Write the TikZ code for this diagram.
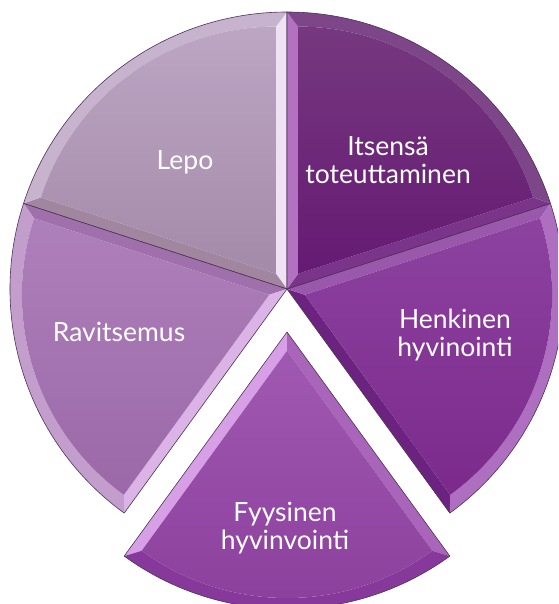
\documentclass[tikz,border=0pt]{standalone}
\usepackage{fontspec}
\setmainfont{Lato}
\usetikzlibrary{calc}
\definecolor{lepoTop}{HTML}{BCA6C4}
\definecolor{lepoBot}{HTML}{A48AA9}
\definecolor{lepoBa}{HTML}{EFE2F3}
\definecolor{lepoBb}{HTML}{A0879F}
\definecolor{lepoArc}{HTML}{C8B3CE}
\definecolor{ravTop}{HTML}{AE80BB}
\definecolor{ravBot}{HTML}{9B68A8}
\definecolor{ravBa}{HTML}{A070AD}
\definecolor{ravBb}{HTML}{DCB3E6}
\definecolor{ravArc}{HTML}{C39ECD}
\definecolor{fyyTop}{HTML}{A059B2}
\definecolor{fyyBot}{HTML}{8B3F9C}
\definecolor{fyyBa}{HTML}{D7A0E6}
\definecolor{fyyBb}{HTML}{A865B9}
\definecolor{fyyArc}{HTML}{86399A}
\definecolor{henTop}{HTML}{8D42A0}
\definecolor{henBot}{HTML}{7B2A8B}
\definecolor{henBa}{HTML}{6C2380}
\definecolor{henBb}{HTML}{9A58AD}
\definecolor{henArc}{HTML}{AE6FC0}
\definecolor{itsTop}{HTML}{76387F}
\definecolor{itsBot}{HTML}{651A73}
\definecolor{itsBa}{HTML}{7A348A}
\definecolor{itsBb}{HTML}{B471C2}
\definecolor{itsArc}{HTML}{7D4688}
\definecolor{rimline}{HTML}{4E3355}
\newcommand\pieslice[8]{%
  % #1 apex, #2 bisector angle, #3 face top, #4 face bottom,
  % #5 band at angle-36, #6 band at angle+36, #7 arc band, #8 prefix
  \pgfmathsetmacro\angLo{#2-36}%
  \pgfmathsetmacro\angHi{#2+36}%
  \coordinate (#8A) at #1;
  \coordinate (#8B) at ($(#8A)+(#2:18.72)$);
  \coordinate (#8P) at ($(#8A)+(\angLo:277)$);
  \coordinate (#8Q) at ($(#8A)+(\angHi:277)$);
  \coordinate (#8p) at ($(#8B)+(\angLo:247.3)$);
  \coordinate (#8q) at ($(#8B)+(\angHi:247.3)$);
  \fill[#5] (#8A) -- (#8P) -- (#8p) -- (#8B) -- cycle;
  \fill[#6] (#8A) -- (#8Q) -- (#8q) -- (#8B) -- cycle;
  \fill[#7] (#8P) arc[start angle=\angLo, end angle=\angHi, radius=277]
     -- (#8q) arc[start angle=\angHi, end angle=\angLo, radius=247.3] -- cycle;
  \shade[top color=#3, bottom color=#4] (#8B) -- (#8p)
     arc[start angle=\angLo, end angle=\angHi, radius=247.3] -- cycle;
  \draw[rimline, line width=0.6pt, line join=round] (#8A) -- (#8P)
     arc[start angle=\angLo, end angle=\angHi, radius=277] -- cycle;
}
\tikzset{lbl/.style={text=white, align=center, font=\fontsize{26.5}{28}\selectfont, inner sep=0pt}}
\begin{document}
\begin{tikzpicture}[x=1pt, y=1pt]
\useasboundingbox (0,0) rectangle (558,-604);
\clip (0,0) rectangle (558,-604);
\fill[white] (0,0) rectangle (558,-604);
\pieslice{(287,-289)}{126}{lepoTop}{lepoBot}{lepoBa}{lepoBb}{lepoArc}{le}
\pieslice{(287,-289)}{198}{ravTop}{ravBot}{ravBa}{ravBb}{ravArc}{ra}
\pieslice{(287,-289)}{342}{henTop}{henBot}{henBa}{henBb}{henArc}{he}
\pieslice{(287,-289)}{54}{itsTop}{itsBot}{itsBa}{itsBb}{itsArc}{it}
\pieslice{(287,-332)}{270}{fyyTop}{fyyBot}{fyyBa}{fyyBb}{fyyArc}{fy}
\node[lbl] (lepo) at (185,-162) {Lepo};
\node[lbl] (itsensa) at (388,-160) {Itsensä\\toteuttaminen};
\node[lbl] (ravitsemus) at (119,-332) {Ravitsemus};
\node[lbl] (henkinen) at (455,-335) {Henkinen\\hyvinointi};
\node[lbl] (fyysinen) at (285,-528) {Fyysinen\\hyvinvointi};
\end{tikzpicture}
\end{document}
